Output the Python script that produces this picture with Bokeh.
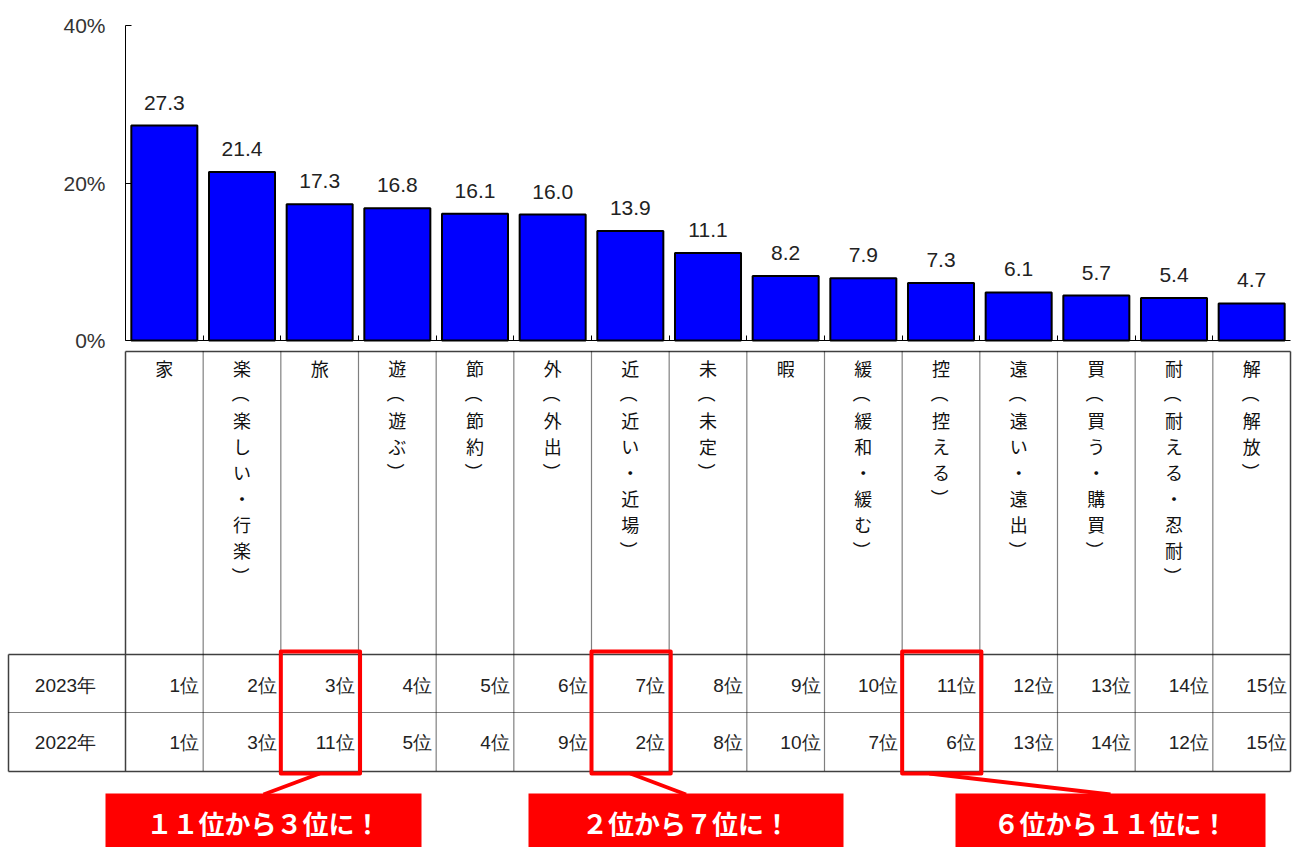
import math
from bokeh.plotting import figure
from bokeh.models import Range1d, FixedTicker, LabelSet, ColumnDataSource, PrintfTickFormatter
from bokeh.core.properties import value
from bokeh.embed import file_html
from bokeh.resources import INLINE

# ---------------- data ----------------
categories = ["家", "楽（楽しい・行楽）", "旅", "遊（遊ぶ）", "節（節約）", "外（外出）",
              "近（近い・近場）", "未（未定）", "暇", "緩（緩和・緩む）", "控（控える）",
              "遠（遠い・遠出）", "買（買う・購買）", "耐（耐える・忍耐）", "解（解放）"]
values = [27.3, 21.4, 17.3, 16.8, 16.1, 16.0, 13.9, 11.1, 8.2, 7.9, 7.3, 6.1, 5.7, 5.4, 4.7]
rank_2023 = [1, 2, 3, 4, 5, 6, 7, 8, 9, 10, 11, 12, 13, 14, 15]
rank_2022 = [1, 3, 11, 5, 4, 9, 2, 8, 10, 7, 6, 13, 14, 12, 15]
year_labels = ["2023年", "2022年"]
y_ticks = [0, 20, 40]
highlight_idx = [2, 6, 10]
callout_texts = ["１１位から３位に！", "２位から７位に！", "６位から１１位に！"]

# ---------------- layout constants (pixels) ----------------
W, H = 1296, 847
PL, PR, PT, PB = 125, 1290, 25, 340
N = len(categories)
YMAX = 40
U = (PR - PL) / N          # pixels per category unit
S = (PB - PT) / YMAX       # pixels per percent


def ux(px):
    return (px - PL) / U


def vy(px):
    return (PB - px) / S


SOLID = "#404040"
FONT_LAT = "Liberation Sans"
FONT_JP = "Noto Sans CJK JP"

p = figure(width=W, height=H, x_range=Range1d(ux(0), ux(W)), y_range=Range1d(vy(H), vy(0)),
           output_backend="svg", toolbar_location=None, min_border=0)
p.outline_line_color = None
p.grid.grid_line_color = None
p.background_fill_color = "white"
p.border_fill_color = "white"

# ---------------- bars ----------------
xc = [i + 0.5 for i in range(N)]
src = ColumnDataSource(dict(x=xc, top=values, label=[f"{v:.1f}" for v in values]))
p.vbar(x="x", top="top", width=0.85, source=src, fill_color="#0000FF",
       line_color="black", line_width=2)
p.add_layout(LabelSet(x="x", y="top", text="label", source=src, y_offset=16,
                      text_align="center", text_baseline="alphabetic",
                      text_font=value(FONT_LAT), text_font_size="21px",
                      text_color="#222222"))

# ---------------- axes (drawn at fixed data locations) ----------------
yax = p.yaxis[0]
yax.fixed_location = 0
yax.bounds = (0, YMAX)
yax.ticker = FixedTicker(ticks=y_ticks)
yax.formatter = PrintfTickFormatter(format="%d%%")
yax.major_tick_in = 6
yax.major_tick_out = 0
yax.minor_tick_line_color = None
yax.major_label_standoff = 20
yax.major_label_text_font = FONT_LAT
yax.major_label_text_font_size = "21px"
yax.major_label_text_color = "#333333"
yax.axis_line_color = "black"
yax.major_tick_line_color = "black"

xax = p.xaxis[0]
xax.fixed_location = 0
xax.bounds = (0, N)
xax.ticker = FixedTicker(ticks=list(range(1, N)))
xax.major_label_overrides = {i: "" for i in range(1, N)}
xax.major_label_text_color = None
xax.major_tick_in = 5
xax.major_tick_out = 0
xax.minor_tick_line_color = None
xax.axis_line_color = "black"
xax.major_tick_line_color = "black"

# ---------------- label area + table ----------------
BOX_T, TAB_T, ROW_SEP, TAB_B = vy(351), vy(654), vy(712), vy(771)
XL = ux(8)

p.segment(x0=[0, XL, XL], y0=[BOX_T, TAB_T, TAB_B], x1=[N, N, N], y1=[BOX_T, TAB_T, TAB_B],
          line_color=SOLID, line_width=1.5)
p.segment(x0=[0, N, XL], y0=[BOX_T, BOX_T, TAB_T], x1=[0, N, XL], y1=[TAB_B, TAB_B, TAB_B],
          line_color=SOLID, line_width=1.5)
p.segment(x0=[XL], y0=[ROW_SEP], x1=[N], y1=[ROW_SEP], line_color="black",
          line_width=1.2, line_dash="1 1")
p.segment(x0=list(range(1, N)), y0=[BOX_T] * (N - 1), x1=list(range(1, N)),
          y1=[TAB_B] * (N - 1), line_color="black", line_width=1.2, line_dash="1 1")

# vertical category labels (one character per line, brackets turned for vertical writing)
CHAR_TOP, CHAR_STEP = 367, 26.1
cx, cy, ct, ca = [], [], [], []
for i, lab in enumerate(categories):
    for k, ch in enumerate(lab):
        cx.append(i + 0.5)
        cy.append(vy(CHAR_TOP + k * CHAR_STEP))
        ct.append(ch)
        ca.append(-math.pi / 2 if ch in "（）" else 0.0)
p.text(x=cx, y=cy, text=ct, angle=ca, text_align="center", text_baseline="middle",
       text_font=value(FONT_JP), text_font_size="18px", text_color="#111111")

# table text
ROW_Y = [vy(685), vy(742)]
for ry, ranks in zip(ROW_Y, [rank_2023, rank_2022]):
    p.text(x=[i + 1 for i in range(N)], y=[ry] * N, text=[f"{r}位" for r in ranks],
           x_offset=-4, text_align="right", text_baseline="middle",
           text_font=value(FONT_LAT), text_font_size="19px", text_color="#222222")
p.text(x=[ux(65)] * 2, y=ROW_Y, text=year_labels, text_align="center",
       text_baseline="middle", text_font=value(FONT_LAT), text_font_size="19px",
       text_color="#222222")

# highlight boxes
HB_T, HB_B = vy(651), vy(773)
p.quad(left=[j for j in highlight_idx], right=[j + 1.02 for j in highlight_idx],
       top=[HB_T] * 3, bottom=[HB_B] * 3, fill_color=None, line_color="#FF0000",
       line_width=4, line_join="round")

# callouts
CALL_PX = [(105, 421), (528, 843), (955, 1265)]
CONN_START_OFF = [0.0, 0.0, -0.15]
cl = [ux(a) for a, b in CALL_PX]
cr = [ux(b) for a, b in CALL_PX]
cm = [(a + b) / 2 for a, b in zip(cl, cr)]
p.segment(x0=[j + 0.5 + o for j, o in zip(highlight_idx, CONN_START_OFF)], y0=[HB_B] * 3,
          x1=cm, y1=[vy(794)] * 3, line_color="#FF0000", line_width=4)
p.quad(left=cl, right=cr, top=[vy(793)] * 3, bottom=[vy(852)] * 3, fill_color="#FF0000",
       line_color=None)
p.text(x=cm, y=[vy(822)] * 3, text=callout_texts, text_align="center", text_baseline="middle",
       text_font=value(FONT_JP), text_font_style="bold", text_font_size="26px",
       text_color="white")

open("out.html", "w").write(file_html(p, INLINE))
